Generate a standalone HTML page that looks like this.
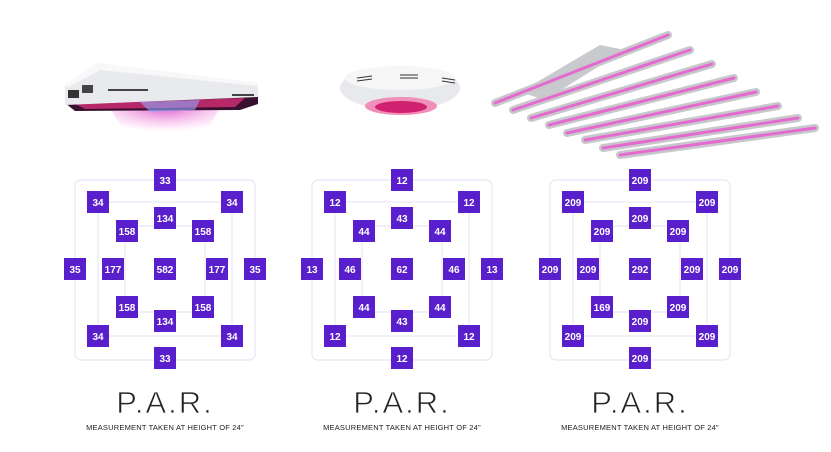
<!DOCTYPE html>
<html><head><meta charset="utf-8"><style>
html,body{margin:0;padding:0;background:#fff;}
svg{display:block;}
.b{fill:#5a1fcc;}
.t{fill:#fff;font-family:"Liberation Sans",sans-serif;font-size:10px;font-weight:bold;text-anchor:middle;}
.l{stroke:#e8e5f3;stroke-width:1.2;fill:none;}
.par{font-family:"Liberation Sans",sans-serif;font-size:31px;fill:#222;stroke:#fff;stroke-width:0.8;text-anchor:middle;letter-spacing:2px;}
.m{font-family:"Liberation Sans",sans-serif;font-size:7.5px;fill:#222;text-anchor:middle;letter-spacing:0.2px;}
</style></head><body>
<svg width="831" height="452" viewBox="0 0 831 452" xmlns="http://www.w3.org/2000/svg">
<defs>
<radialGradient id="glow" cx="50%" cy="0%" r="70%"><stop offset="0" stop-color="#d040c0" stop-opacity="0.8"/><stop offset="1" stop-color="#ff80e0" stop-opacity="0"/></radialGradient>
<g id="frame">
<rect class="l" x="-90" y="180" width="180" height="180" rx="6"/>
<rect class="l" x="-67" y="202" width="134" height="134"/>
<line class="l" x1="-38" y1="226" x2="38" y2="226"/>
<line class="l" x1="-38" y1="312" x2="38" y2="312"/>
<line class="l" x1="-40" y1="231" x2="-40" y2="307"/>
<line class="l" x1="40" y1="231" x2="40" y2="307"/>
</g>
<g id="boxes">
<rect class="b" x="-11" y="169" width="22" height="22"/>
<rect class="b" x="-11" y="347" width="22" height="22"/>
<rect class="b" x="-78" y="191" width="22" height="22"/>
<rect class="b" x="56" y="191" width="22" height="22"/>
<rect class="b" x="-78" y="325" width="22" height="22"/>
<rect class="b" x="56" y="325" width="22" height="22"/>
<rect class="b" x="-11" y="207" width="22" height="22"/>
<rect class="b" x="-11" y="310" width="22" height="22"/>
<rect class="b" x="-49" y="220" width="22" height="22"/>
<rect class="b" x="27" y="220" width="22" height="22"/>
<rect class="b" x="-49" y="296" width="22" height="22"/>
<rect class="b" x="27" y="296" width="22" height="22"/>
<rect class="b" x="-101" y="258" width="22" height="22"/>
<rect class="b" x="79" y="258" width="22" height="22"/>
<rect class="b" x="-63" y="258" width="22" height="22"/>
<rect class="b" x="41" y="258" width="22" height="22"/>
<rect class="b" x="-11" y="258" width="22" height="22"/>
</g>
</defs>

<!-- fixture 1 -->
<polygon points="110,108 220,108 200,142 130,142" fill="url(#glow)"/>
<polygon points="65,103 258,95 258,104 240,110 75,111" fill="#3a1030"/>
<polygon points="75,104 245,98 235,107 85,109" fill="#e0307a" opacity="0.75"/>
<polygon points="140,102 200,100 195,110 150,112" fill="#8fa8ff" opacity="0.6"/>
<polygon points="65,85 97,63 258,83 258,97 65,105" fill="#e9eaed"/>
<polygon points="97,63 258,83 258,86 100,70 67,88 65,85" fill="#f8f8f9"/>
<rect x="68" y="90" width="11" height="8" fill="#333"/><rect x="82" y="85" width="11" height="8" fill="#444"/>
<g fill="#444"><rect x="108" y="89" width="40" height="2"/><rect x="232" y="94" width="22" height="2"/></g>
<!-- fixture 2 -->
<ellipse cx="400" cy="88" rx="60" ry="22" fill="#e8e9ec"/>
<ellipse cx="400" cy="78" rx="55" ry="12" fill="#f6f6f7"/>
<ellipse cx="401" cy="106" rx="36" ry="9" fill="#f090b8"/>
<ellipse cx="401" cy="107" rx="26" ry="6" fill="#d02070"/>
<g stroke="#333" stroke-width="1"><line x1="357" y1="78" x2="372" y2="76"/><line x1="357" y1="81" x2="372" y2="79"/><line x1="400" y1="75" x2="418" y2="75"/><line x1="400" y1="78" x2="418" y2="78"/><line x1="442" y1="78" x2="455" y2="80"/><line x1="442" y1="81" x2="455" y2="83"/></g>
<!-- fixture 3 -->
<polygon points="520,92 600,45 625,50 545,100" fill="#c9cacd"/>
<g stroke-linecap="round">
<line x1="495" y1="103" x2="668" y2="35" stroke="#c8c8cc" stroke-width="8"/><line x1="495" y1="103" x2="668" y2="35" stroke="#e46ad0" stroke-width="3"/>
<line x1="513" y1="110" x2="690" y2="50" stroke="#c8c8cc" stroke-width="8"/><line x1="513" y1="110" x2="690" y2="50" stroke="#e46ad0" stroke-width="3"/>
<line x1="531" y1="118" x2="712" y2="64" stroke="#c8c8cc" stroke-width="8"/><line x1="531" y1="118" x2="712" y2="64" stroke="#e46ad0" stroke-width="3"/>
<line x1="549" y1="125" x2="734" y2="78" stroke="#c8c8cc" stroke-width="8"/><line x1="549" y1="125" x2="734" y2="78" stroke="#e46ad0" stroke-width="3"/>
<line x1="567" y1="133" x2="756" y2="92" stroke="#c8c8cc" stroke-width="8"/><line x1="567" y1="133" x2="756" y2="92" stroke="#e46ad0" stroke-width="3"/>
<line x1="585" y1="140" x2="778" y2="106" stroke="#c8c8cc" stroke-width="8"/><line x1="585" y1="140" x2="778" y2="106" stroke="#e46ad0" stroke-width="3"/>
<line x1="603" y1="148" x2="798" y2="118" stroke="#c8c8cc" stroke-width="8"/><line x1="603" y1="148" x2="798" y2="118" stroke="#e46ad0" stroke-width="3"/>
<line x1="620" y1="155" x2="815" y2="128" stroke="#c8c8cc" stroke-width="8"/><line x1="620" y1="155" x2="815" y2="128" stroke="#e46ad0" stroke-width="3"/>
</g>

<!-- panel 1 -->
<g transform="translate(165,0)"><use href="#frame"/><use href="#boxes"/>
<text class="t" x="0" y="184">33</text><text class="t" x="0" y="362">33</text>
<text class="t" x="-67" y="206">34</text><text class="t" x="67" y="206">34</text>
<text class="t" x="-67" y="340">34</text><text class="t" x="67" y="340">34</text>
<text class="t" x="0" y="222">134</text><text class="t" x="0" y="325">134</text>
<text class="t" x="-38" y="235">158</text><text class="t" x="38" y="235">158</text>
<text class="t" x="-38" y="311">158</text><text class="t" x="38" y="311">158</text>
<text class="t" x="-90" y="273">35</text><text class="t" x="90" y="273">35</text>
<text class="t" x="-52" y="273">177</text><text class="t" x="52" y="273">177</text>
<text class="t" x="0" y="273">582</text>
<text class="par" x="0" y="413">P.A.R.</text>
<text class="m" x="0" y="430">MEASUREMENT TAKEN AT HEIGHT OF 24"</text>
</g>
<!-- panel 2 -->
<g transform="translate(402,0)"><use href="#frame"/><use href="#boxes"/>
<text class="t" x="0" y="184">12</text><text class="t" x="0" y="362">12</text>
<text class="t" x="-67" y="206">12</text><text class="t" x="67" y="206">12</text>
<text class="t" x="-67" y="340">12</text><text class="t" x="67" y="340">12</text>
<text class="t" x="0" y="222">43</text><text class="t" x="0" y="325">43</text>
<text class="t" x="-38" y="235">44</text><text class="t" x="38" y="235">44</text>
<text class="t" x="-38" y="311">44</text><text class="t" x="38" y="311">44</text>
<text class="t" x="-90" y="273">13</text><text class="t" x="90" y="273">13</text>
<text class="t" x="-52" y="273">46</text><text class="t" x="52" y="273">46</text>
<text class="t" x="0" y="273">62</text>
<text class="par" x="0" y="413">P.A.R.</text>
<text class="m" x="0" y="430">MEASUREMENT TAKEN AT HEIGHT OF 24"</text>
</g>
<!-- panel 3 -->
<g transform="translate(640,0)"><use href="#frame"/><use href="#boxes"/>
<text class="t" x="0" y="184">209</text><text class="t" x="0" y="362">209</text>
<text class="t" x="-67" y="206">209</text><text class="t" x="67" y="206">209</text>
<text class="t" x="-67" y="340">209</text><text class="t" x="67" y="340">209</text>
<text class="t" x="0" y="222">209</text><text class="t" x="0" y="325">209</text>
<text class="t" x="-38" y="235">209</text><text class="t" x="38" y="235">209</text>
<text class="t" x="-38" y="311">169</text><text class="t" x="38" y="311">209</text>
<text class="t" x="-90" y="273">209</text><text class="t" x="90" y="273">209</text>
<text class="t" x="-52" y="273">209</text><text class="t" x="52" y="273">209</text>
<text class="t" x="0" y="273">292</text>
<text class="par" x="0" y="413">P.A.R.</text>
<text class="m" x="0" y="430">MEASUREMENT TAKEN AT HEIGHT OF 24"</text>
</g>
</svg>
</body></html>
